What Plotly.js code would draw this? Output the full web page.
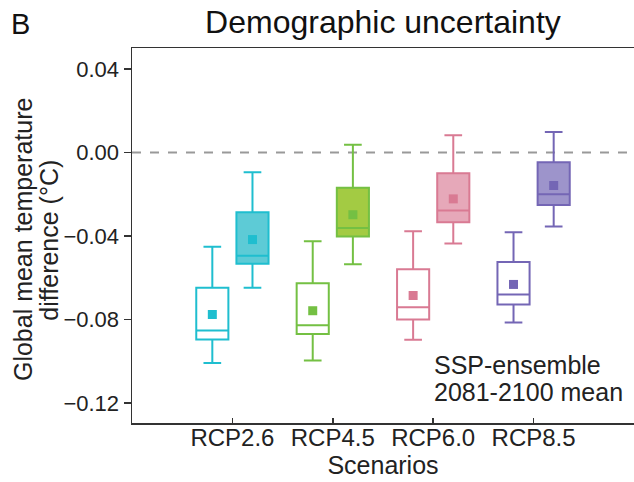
<!DOCTYPE html>
<html>
<head>
<meta charset="utf-8">
<script src="https://cdn.plot.ly/plotly-3.0.1.min.js"></script>
<style>html,body{margin:0;padding:0;background:#fff;}#chart{width:634px;height:482px;}</style>
</head>
<body>
<div id="chart"></div>
<script>
// Scenarios
const scenarios = ["RCP2.6", "RCP4.5", "RCP6.0", "RCP8.5"];
const lineColors = ["#1fbecf", "#74c043", "#d97a93", "#7466b5"];
const fillColors = ["rgba(31,183,198,0.72)", "rgba(140,190,20,0.8)", "rgba(217,122,147,0.65)", "rgba(116,102,181,0.7)"];

// Open boxes (left member of each pair)
const openLower  = [-0.1008, -0.0996, -0.0897, -0.0814];
const openQ1     = [-0.0896, -0.0870, -0.0800, -0.0728];
const openMedian = [-0.0853, -0.0827, -0.0741, -0.0680];
const openQ3     = [-0.0648, -0.0626, -0.0559, -0.0525];
const openUpper  = [-0.0452, -0.0425, -0.0377, -0.0382];
const openMean   = [-0.0776, -0.0758, -0.0685, -0.0632];

// Filled boxes (right member of each pair)
const fillLower  = [-0.0648, -0.0535, -0.0436, -0.0354];
const fillQ1     = [-0.0533, -0.0402, -0.0334, -0.0251];
const fillMedian = [-0.0494, -0.0362, -0.0278, -0.0200];
const fillQ3     = [-0.0286, -0.0169, -0.0099, -0.0046];
const fillUpper  = [-0.0094,  0.0037,  0.0083,  0.0099];
const fillMean   = [-0.0417, -0.0298, -0.0222, -0.0158];

const yTicks = [0.04, 0.00, -0.04, -0.08, -0.12];

const offset = 0.2;
const traces = [];
scenarios.forEach((s, i) => {
  const c = i + 1;
  traces.push({
    type: "box", x: [c - offset],
    lowerfence: [openLower[i]], q1: [openQ1[i]], median: [openMedian[i]],
    q3: [openQ3[i]], upperfence: [openUpper[i]],
    width: 0.32, whiskerwidth: 0.55,
    fillcolor: "rgba(255,255,255,0)",
    line: {color: lineColors[i], width: 2},
    boxpoints: false, showlegend: false, hoverinfo: "skip"
  });
  traces.push({
    type: "box", x: [c + offset],
    lowerfence: [fillLower[i]], q1: [fillQ1[i]], median: [fillMedian[i]],
    q3: [fillQ3[i]], upperfence: [fillUpper[i]],
    width: 0.32, whiskerwidth: 0.55,
    fillcolor: fillColors[i],
    line: {color: lineColors[i], width: 2},
    boxpoints: false, showlegend: false, hoverinfo: "skip"
  });
  traces.push({
    type: "scatter", mode: "markers",
    x: [c - offset, c + offset], y: [openMean[i], fillMean[i]],
    marker: {symbol: "square", size: 9, color: lineColors[i]},
    showlegend: false, hoverinfo: "skip"
  });
});

const font = "Liberation Sans, Arial, sans-serif";
const txt = "#222";
const layout = {
  width: 634, height: 482,
  margin: {l: 132, r: 0, t: 48, b: 59},
  paper_bgcolor: "#fff", plot_bgcolor: "#fff",
  font: {family: font, color: txt},
  showlegend: false,
  title: {text: "Demographic uncertainty", font: {size: 32, family: font, color: "#111"},
          x: 0.604, xanchor: "center", y: 0.955, yanchor: "middle"},
  xaxis: {
    range: [0, 5], tickvals: scenarios.map((s, i) => i + 1), ticktext: scenarios,
    ticks: "inside", ticklen: 5, tickwidth: 1.5, tickcolor: "#333",
    showline: true, linecolor: "#333", linewidth: 1.5, mirror: true,
    showgrid: false, zeroline: false, ticklabelstandoff: -7,
    tickfont: {size: 24, family: font, color: txt},
    title: {text: "Scenarios", font: {size: 25, family: font, color: txt}, standoff: 3}
  },
  yaxis: {
    range: [-0.1296, 0.0501], tickvals: yTicks, tickformat: ".2f",
    ticks: "outside", ticklen: 7, tickwidth: 1.5, tickcolor: "#333",
    showline: true, linecolor: "#333", linewidth: 1.5, mirror: true,
    showgrid: false, zeroline: false,
    tickfont: {size: 22, family: font, color: txt}
  },
  shapes: [{
    type: "line", xref: "paper", x0: 0, x1: 1, yref: "y", y0: 0, y1: 0,
    line: {color: "#999", width: 2, dash: "dash"}, layer: "below"
  }],
  annotations: [
    {text: "B", xref: "paper", yref: "paper", x: -0.245, y: 1.015, xanchor: "left", yanchor: "bottom",
     showarrow: false, font: {size: 29, family: font, color: "#111"}},
    {text: "Global mean temperature", xref: "paper", yref: "paper", x: -0.217, y: 0.488,
     xanchor: "center", yanchor: "middle", textangle: -90, showarrow: false,
     font: {size: 25, family: font, color: txt}},
    {text: "difference (°C)", xref: "paper", yref: "paper", x: -0.166, y: 0.488,
     xanchor: "center", yanchor: "middle", textangle: -90, showarrow: false,
     font: {size: 25, family: font, color: txt}},
    {text: "SSP-ensemble", xref: "paper", yref: "paper", x: 0.598, y: 0.155,
     xanchor: "left", yanchor: "middle", showarrow: false,
     font: {size: 25, family: font, color: txt}},
    {text: "2081-2100 mean", xref: "paper", yref: "paper", x: 0.598, y: 0.083,
     xanchor: "left", yanchor: "middle", showarrow: false,
     font: {size: 25, family: font, color: txt}}
  ]
};

Plotly.newPlot("chart", traces, layout, {staticPlot: true, displayModeBar: false});
</script>
</body>
</html>
